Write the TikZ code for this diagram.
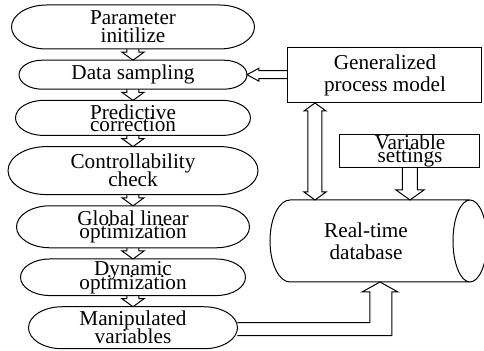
\documentclass[tikz,border=0pt]{standalone}
\usepackage{fontspec}
\setmainfont{Liberation Serif}
\usetikzlibrary{positioning,calc}

\newcommand{\stagefont}{\fontsize{10.6}{9}\selectfont\lineskiplimit=-20pt\relax}
\newcommand{\boxfont}{\fontsize{10.6}{11}\selectfont\lineskiplimit=-20pt\relax}
\newcommand{\tightfont}{\fontsize{10.6}{6.3}\selectfont\lineskiplimit=-20pt\relax}

% outline of a stage: flat top and bottom, elliptic ends
\newcommand{\capsule}[1]{%
  \draw let \p1=(#1.north west), \p2=(#1.south east), \n1={(\y1-\y2)/2}, \n2={1.6*\n1} in
    (\x1+\n2,\y1) -- (\x2-\n2,\y1)
    arc[start angle=90, end angle=-90, x radius=\n2, y radius=\n1]
    -- (\x1+\n2,\y2)
    arc[start angle=270, end angle=90, x radius=\n2, y radius=\n1] -- cycle;}

% hollow arrow: tail, tip, shaft half width, head half width, head length
\newcommand{\hollow}[5]{%
  \path #1 coordinate (h0) #2 coordinate (h1);
  \coordinate (hb) at ($(h1)!#5!(h0)$);
  \draw ($(h0)!#3!90:(h1)$) -- ($(hb)!#3!90:(h1)$) -- ($(hb)!#4!90:(h1)$)
    -- (h1) -- ($(hb)!#4!-90:(h1)$) -- ($(hb)!#3!-90:(h1)$) -- ($(h0)!#3!-90:(h1)$);}

% same with a head at both ends
\newcommand{\hollowboth}[5]{%
  \path #1 coordinate (h0) #2 coordinate (h1);
  \coordinate (ha) at ($(h0)!#5!(h1)$);
  \coordinate (hb) at ($(h1)!#5!(h0)$);
  \draw ($(ha)!#3!90:(h1)$) -- ($(hb)!#3!90:(h1)$) -- ($(hb)!#4!90:(h1)$)
    -- (h1) -- ($(hb)!#4!-90:(h1)$) -- ($(hb)!#3!-90:(h1)$)
    -- ($(ha)!#3!-90:(h1)$) -- ($(ha)!#4!-90:(h1)$) -- (h0)
    -- ($(ha)!#4!90:(h1)$) -- cycle;}

\begin{document}
\begin{tikzpicture}[x=1pt, y=1pt, node distance=5.6pt, line width=0.5pt, outer sep=0pt,
    stage/.style = {align=center, inner sep=1pt, font=\stagefont},
    box/.style = {draw, align=center, inner sep=1pt, font=\boxfont}]
    \useasboundingbox (0,0) rectangle (242,-175.5);
    \clip (0,0) rectangle (242,-175.5);

    % control loop stages
    \node[stage, minimum width=121.5pt, minimum height=22pt] (init) at (66.5,-13.5) {Parameter\\initilize};
    \node[stage, minimum width=114pt, minimum height=14.5pt] (sample) [below=of init] {Data sampling};
    \node[stage, minimum width=117.5pt, minimum height=17.5pt] (predict) [below=of sample] {Predictive\\[-3pt]correction};
    \node[stage, minimum width=125pt, minimum height=24pt] (check) [below=of predict] {Controllability\\check};
    \node[stage, minimum width=116.5pt, minimum height=21pt] (linopt) [below=of check] {Global linear\\[-2.5pt]optimization};
    \node[stage, minimum width=112.5pt, minimum height=18pt] (dynopt) [below=of linopt] {Dynamic\\[-2pt]optimization};
    \node[stage, minimum width=104.5pt, minimum height=21pt] (manip) [below=of dynopt] {Manipulated\\variables};
    \foreach \s in {init,sample,predict,check,linopt,dynopt,manip}
        \capsule{\s};
    \foreach \a/\b in {init/sample, sample/predict, predict/check, check/linopt, linopt/dynopt, dynopt/manip}
        \hollow{(\a.south)}{(\b.north)}{3pt}{5.5pt}{4pt};

    % model, settings and database
    \node[box, minimum width=97pt, minimum height=27.5pt] (model) at (192.5,-37.75) {Generalized\\process model};
    \node[box, minimum width=70pt, minimum height=16pt, inner sep=0.5pt, font=\tightfont] (settings) at (205,-75.5) {Variable\\settings};
    \node[minimum width=90pt, minimum height=41pt,
        label={[xshift=-7pt, align=center, font=\boxfont]center:Real-time\\database}] (db) at (190,-120.5) {};
    \draw (db.north west) -- (db.north east) (db.south west) -- (db.south east)
        (db.north west) arc[start angle=90, end angle=270, x radius=10, y radius=20.5]
        (db.east) ellipse[x radius=8.5, y radius=20.5];

    \hollow{(model.west |- sample.east)}{(sample.east)}{2pt}{3.25pt}{6pt};
    \coordinate (link) at ($(model.south west)+(13.5,0)$);
    \hollowboth{(link)}{(link |- db.north)}{3.5pt}{5.5pt}{4pt};
    \hollow{(settings.south)}{(settings.south |- db.north)}{3.75pt}{7pt}{5pt};

    % manipulated variables back into the database
    \coordinate (bend) at (db.south |- manip.east);
    \draw ($(manip.east)+(0,2.5)$) -- ($(bend)+(-5,2.5)$) -- ($(db.south)+(-5,-5)$)
        -- ($(db.south)+(-9,-5)$) -- (db.south) -- ($(db.south)+(9,-5)$)
        -- ($(db.south)+(6,-5)$) -- ($(bend)+(6,-4)$) -- ($(manip.east)+(0,-4)$);
\end{tikzpicture}
\end{document}
